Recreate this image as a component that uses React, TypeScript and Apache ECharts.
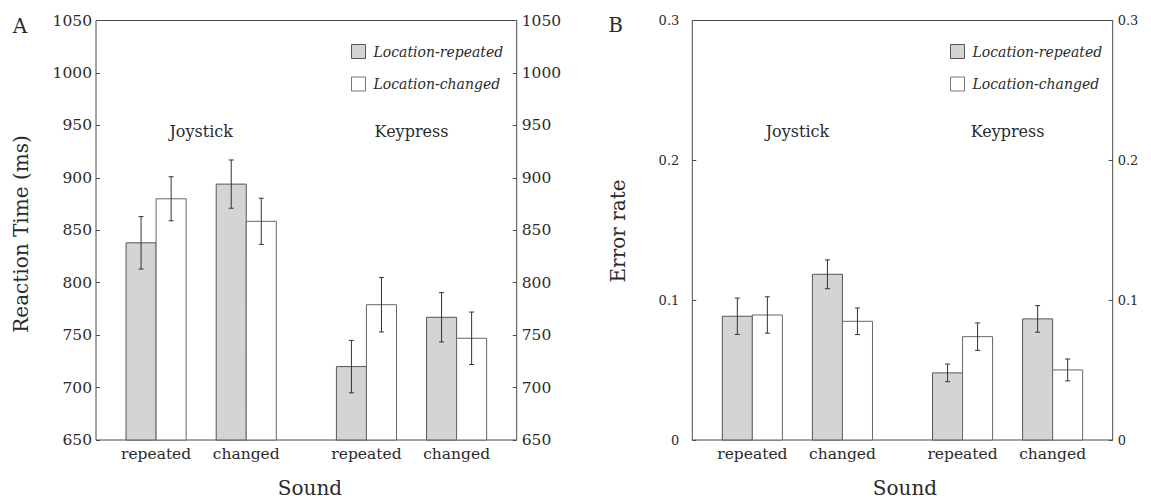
import React, { useEffect, useRef } from "react";
import * as echarts from "echarts";

// Sound conditions along the x axis, and their positions (in bar-width units)
const soundLabels = ["repeated", "changed", "repeated", "changed"];
const groupPositions = [2, 5, 9, 12];
const responseGroups = ["Joystick", "Keypress"];
const seriesNames = ["Location-repeated", "Location-changed"];

// Panel A: reaction time (ms), mean and error
const rtRepeated = [838, 894, 720, 767];
const rtRepeatedErr = [25, 23, 25, 23.5];
const rtChanged = [880, 858.5, 779, 747];
const rtChangedErr = [21, 22, 26, 25];

// Panel B: error rate, mean and error
const erRepeated = [0.0885, 0.1185, 0.048, 0.0866];
const erRepeatedErr = [0.013, 0.0103, 0.0063, 0.0095];
const erChanged = [0.0894, 0.0849, 0.0739, 0.0501];
const erChangedErr = [0.013, 0.0095, 0.0098, 0.0078];

const FONT = "'DejaVu Serif', serif";
const FRAME = "#4a4a4a";
const TEXT = "#2a2a2a";
const GRAY = "#d4d4d6";

const gridA = { left: 96, top: 20.5, width: 420.7, height: 419.5 };
const gridB = { left: 692.3, top: 20.5, width: 420.4, height: 419.5 };
const X_MAX = 14;

function makeRenderer(base: number, offset: number, fill: string, stroke: string) {
  return (params: any, api: any) => {
    const x = api.value(0) + offset;
    const v = api.value(1);
    const e = api.value(2);
    const topLeft = api.coord([x - 0.5, v]);
    const bottomRight = api.coord([x + 0.5, base]);
    const errTop = api.coord([x, v + e]);
    const errBot = api.coord([x, v - e]);
    const cap = 2.5;
    const lineStyle = { stroke: "#333", lineWidth: 1 };
    return {
      type: "group",
      children: [
        {
          type: "rect",
          shape: {
            x: topLeft[0],
            y: topLeft[1],
            width: bottomRight[0] - topLeft[0],
            height: bottomRight[1] - topLeft[1],
          },
          style: { fill, stroke, lineWidth: 1 },
        },
        {
          type: "line",
          shape: { x1: errTop[0], y1: errTop[1], x2: errBot[0], y2: errBot[1] },
          style: lineStyle,
        },
        {
          type: "line",
          shape: { x1: errTop[0] - cap, y1: errTop[1], x2: errTop[0] + cap, y2: errTop[1] },
          style: lineStyle,
        },
        {
          type: "line",
          shape: { x1: errBot[0] - cap, y1: errBot[1], x2: errBot[0] + cap, y2: errBot[1] },
          style: lineStyle,
        },
      ],
    };
  };
}

function toData(values: number[], errs: number[]) {
  return values.map((v, i) => [groupPositions[i], v, errs[i]]);
}

function xAxisFor(gridIndex: number) {
  return {
    type: "value",
    gridIndex,
    min: 0,
    max: X_MAX,
    interval: 1,
    splitLine: { show: false },
    axisLine: { show: false },
    axisTick: { show: false },
    axisLabel: {
      color: TEXT,
      fontFamily: FONT,
      fontSize: 15.5,
      margin: 6,
      showMinLabel: false,
      showMaxLabel: false,
      formatter: (v: number) => {
        const i = groupPositions.indexOf(v);
        return i >= 0 ? soundLabels[i] : "";
      },
    },
  };
}

function yAxisFor(
  gridIndex: number,
  position: "left" | "right",
  min: number,
  max: number,
  interval: number,
  fontSize: number,
  margin: number
) {
  return {
    type: "value",
    gridIndex,
    position,
    min,
    max,
    interval,
    splitLine: { show: false },
    axisLine: { show: false },
    axisTick: { show: true, inside: true, length: 4, lineStyle: { color: FRAME } },
    axisLabel: {
      color: TEXT,
      fontFamily: FONT,
      fontSize,
      margin,
      formatter: (v: number) => String(Math.round(v * 1000) / 1000),
    },
  };
}

function legendFor(left: number) {
  return {
    orient: "vertical",
    left,
    top: 39,
    itemWidth: 14,
    itemHeight: 14,
    itemGap: 17.5,
    selectedMode: false,
    icon: "rect",
    textStyle: {
      fontFamily: FONT,
      fontStyle: "italic",
      fontSize: 14,
      color: TEXT,
      lineHeight: 14,
      padding: [0, 0, 0, 3],
    },
    data: [
      { name: seriesNames[0], itemStyle: { color: GRAY, borderColor: "#555", borderWidth: 1 } },
      { name: seriesNames[1], itemStyle: { color: "#fff", borderColor: "#777", borderWidth: 1 } },
    ],
  };
}

function text(x: number, y: number, s: string, size: number, rotation = 0) {
  return {
    type: "text",
    x,
    y,
    rotation,
    style: {
      text: s,
      fill: TEXT,
      font: `${size}px ${FONT}`,
      align: "center",
      verticalAlign: "middle",
    },
  };
}

export default function App() {
  const ref = useRef<HTMLDivElement>(null);

  useEffect(() => {
    if (!ref.current) return;
    const chart = echarts.init(ref.current, undefined, { renderer: "svg" });
    const unitA = gridA.width / X_MAX;
    const unitB = gridB.width / X_MAX;
    const groupLabelY = 131.5;

    chart.setOption({
      animation: false,
      backgroundColor: "#fff",
      grid: [
        { ...gridA, show: true, borderColor: FRAME, borderWidth: 1, backgroundColor: "transparent" },
        { ...gridB, show: true, borderColor: FRAME, borderWidth: 1, backgroundColor: "transparent" },
      ],
      xAxis: [xAxisFor(0), xAxisFor(1)],
      yAxis: [
        yAxisFor(0, "left", 650, 1050, 50, 15.5, 4),
        yAxisFor(0, "right", 650, 1050, 50, 15.5, 5),
        yAxisFor(1, "left", 0, 0.3, 0.1, 13, 13),
        yAxisFor(1, "right", 0, 0.3, 0.1, 13, 5),
      ],
      legend: [legendFor(346), legendFor(945)],
      series: [
        {
          name: seriesNames[0],
          type: "custom",
          xAxisIndex: 0,
          yAxisIndex: 0,
          itemStyle: { color: GRAY },
          renderItem: makeRenderer(650, -0.5, GRAY, "#555"),
          data: toData(rtRepeated, rtRepeatedErr),
        },
        {
          name: seriesNames[1],
          type: "custom",
          xAxisIndex: 0,
          yAxisIndex: 0,
          itemStyle: { color: "#fff" },
          renderItem: makeRenderer(650, 0.5, "#fff", "#666"),
          data: toData(rtChanged, rtChangedErr),
        },
        {
          name: seriesNames[0],
          type: "custom",
          xAxisIndex: 1,
          yAxisIndex: 2,
          itemStyle: { color: GRAY },
          renderItem: makeRenderer(0, -0.5, GRAY, "#555"),
          data: toData(erRepeated, erRepeatedErr),
        },
        {
          name: seriesNames[1],
          type: "custom",
          xAxisIndex: 1,
          yAxisIndex: 2,
          itemStyle: { color: "#fff" },
          renderItem: makeRenderer(0, 0.5, "#fff", "#666"),
          data: toData(erChanged, erChangedErr),
        },
      ],
      graphic: [
        text(20, 25.5, "A", 20),
        text(615.5, 25, "B", 20),
        text(gridA.left + 3.5 * unitA, groupLabelY, responseGroups[0], 16),
        text(gridA.left + 10.5 * unitA, groupLabelY, responseGroups[1], 16),
        text(gridB.left + 3.5 * unitB, groupLabelY, responseGroups[0], 16),
        text(gridB.left + 10.5 * unitB, groupLabelY, responseGroups[1], 16),
        text(310, 488, "Sound", 20),
        text(905, 488, "Sound", 20),
        text(21, 234, "Reaction Time (ms)", 20, Math.PI / 2),
        text(618, 231, "Error rate", 20, Math.PI / 2),
      ],
    });

    return () => chart.dispose();
  }, []);

  return (
    <div
      ref={ref}
      style={{ position: "fixed", left: 0, top: 0, width: 1151, height: 502, background: "#fff" }}
    />
  );
}
